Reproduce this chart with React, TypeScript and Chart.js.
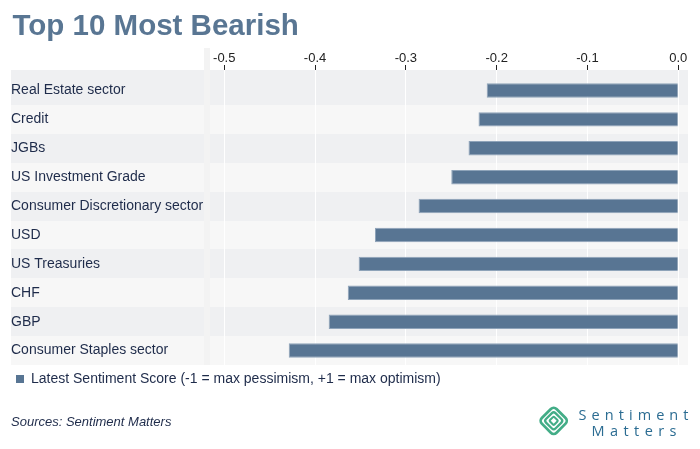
import React, { useEffect, useRef } from 'react';
import { Chart, registerables } from 'chart.js';

Chart.register(...registerables);

const titleText = 'Top 10 Most Bearish';
const sourceText = 'Sources: Sentiment Matters';
const seriesLabel = 'Latest Sentiment Score (-1 = max pessimism, +1 = max optimism)';
const categories = [
  'Real Estate sector',
  'Credit',
  'JGBs',
  'US Investment Grade',
  'Consumer Discretionary sector',
  'USD',
  'US Treasuries',
  'CHF',
  'GBP',
  'Consumer Staples sector',
];
const scores = [-0.211, -0.22, -0.231, -0.25, -0.286, -0.334, -0.352, -0.364, -0.385, -0.429];
const xTickValues = [-0.5, -0.4, -0.3, -0.2, -0.1, 0.0];
const logoWords = ['Sentiment', 'Matters'];

const FONT = '"Liberation Sans", Arial, Helvetica, sans-serif';
const BAR = '#587593';
const TEXT = '#1e2b4a';

const bandPlugin = {
  id: 'bands',
  afterLayout(chart: any) {
    chart.scales.y.left = 11;
    if (chart.legend) chart.legend.left = 9;
  },
  beforeDraw(chart: any) {
    const { ctx, chartArea } = chart;
    const y = chart.scales.y;
    const n = categories.length;
    const step = (chartArea.bottom - chartArea.top) / n;
    ctx.save();
    categories.forEach((_, i) => {
      const c = y.getPixelForValue(i);
      const top = Math.round(i === 0 ? chartArea.top - 6 : c - step / 2);
      const bottom = Math.round(c + step / 2);
      ctx.fillStyle = i % 2 === 0 ? '#eff0f2' : '#f7f7f7';
      ctx.fillRect(11, top, 193, bottom - top);
      ctx.fillRect(chartArea.left, top, chartArea.right - chartArea.left, bottom - top);
    });
    ctx.fillStyle = '#f3f3f3';
    ctx.fillRect(204, 48, chartArea.left - 204, Math.round(chartArea.bottom) - 48);
    ctx.restore();
  },
  afterDraw(chart: any) {
    const { ctx, chartArea } = chart;
    const x = chart.scales.x;
    ctx.save();
    ctx.strokeStyle = '#222222';
    ctx.lineWidth = 1;
    xTickValues.forEach((v) => {
      const px = Math.round(x.getPixelForValue(v) - 0.5) + 0.5;
      ctx.beginPath();
      ctx.moveTo(px, chartArea.top - 11);
      ctx.lineTo(px, chartArea.top - 6);
      ctx.stroke();
    });
    ctx.restore();
  },
};

export default function App() {
  const canvasRef = useRef<HTMLCanvasElement | null>(null);

  useEffect(() => {
    if (!canvasRef.current) return;
    Chart.defaults.font.family = FONT;
    const chart = new Chart(canvasRef.current, {
      type: 'bar',
      data: {
        labels: categories,
        datasets: [
          {
            label: seriesLabel,
            data: scores,
            backgroundColor: BAR,
            borderColor: '#8ea3b9',
            borderWidth: 1,
            categoryPercentage: 1,
            barPercentage: 0.5,
          },
        ],
      },
      options: {
        indexAxis: 'y',
        animation: false,
        responsive: true,
        maintainAspectRatio: false,
        layout: { padding: { left: 12.5, right: 12, top: 0, bottom: 53 } },
        plugins: {
          title: {
            display: true,
            text: titleText,
            align: 'start',
            color: '#597693',
            font: { size: 29.5, weight: 'bold', family: FONT },
            padding: { top: 9, bottom: 0 },
          },
          legend: {
            display: true,
            position: 'bottom',
            align: 'start',
            labels: {
              boxWidth: 8,
              boxHeight: 8,
              padding: 7,
              color: TEXT,
              font: { size: 14, family: FONT },
              generateLabels: (c: any) =>
                (Chart.defaults.plugins.legend.labels as any)
                  .generateLabels(c)
                  .map((l: any) => ({ ...l, lineWidth: 0, strokeStyle: BAR })),
            },
          },
          tooltip: { enabled: false },
        },
        scales: {
          x: {
            type: 'linear',
            position: 'top',
            min: -0.5157,
            max: 0.0107,
            afterBuildTicks: (s: any) => {
              s.ticks = xTickValues.map((v) => ({ value: v }));
            },
            afterFit: (s: any) => {
              s.height = 31.6;
            },
            grid: {
              color: '#ffffff',
              lineWidth: 1,
              drawTicks: true,
              tickLength: 6,
              tickColor: '#ffffff',
            },
            border: { display: false },
            ticks: {
              padding: 4,
              color: '#222222',
              font: { size: 13, family: FONT },
              callback: (v: any) => Number(v).toFixed(1),
            },
          },
          y: {
            type: 'category',
            grid: { display: false },
            border: { display: false },
            afterFit: (s: any) => {
              s.width = 197.5;
            },
            ticks: {
              crossAlign: 'far',
              autoSkip: false,
              color: TEXT,
              font: { size: 14, family: FONT },
            },
          },
        },
      },
      plugins: [bandPlugin],
    } as any);
    return () => chart.destroy();
  }, []);

  return (
    <div style={{ position: 'fixed', left: 0, top: 0, width: 700, height: 449, background: '#ffffff' }}>
      <canvas ref={canvasRef} style={{ display: 'block' }} />
      <div
        style={{
          position: 'absolute',
          left: 11,
          top: 413,
          font: `italic 13px ${FONT}`,
          lineHeight: '18px',
          color: TEXT,
          whiteSpace: 'nowrap',
        }}
      >
        {sourceText}
      </div>
      <svg
        width={700}
        height={449}
        style={{ position: 'absolute', left: 0, top: 0, pointerEvents: 'none' }}
      >
        <g transform="translate(553.7 420.8) rotate(45)" fill="none" stroke="#43ad87">
          <rect x={-10.4} y={-10.4} width={20.8} height={20.8} rx={4} strokeWidth={2.7} />
          <rect x={-6.7} y={-6.7} width={13.4} height={13.4} rx={2.5} strokeWidth={2.3} />
          <rect x={-3.1} y={-3.1} width={6.2} height={6.2} rx={1} strokeWidth={2.1} />
        </g>
        <text x={578.5} y={419.5} textLength={110} lengthAdjust="spacing" fontFamily="'Open Sans', Lato, sans-serif" fontSize={14.5} fill="#2b6c92">
          {logoWords[0]}
        </text>
        <text x={591.5} y={436} textLength={85} lengthAdjust="spacing" fontFamily="'Open Sans', Lato, sans-serif" fontSize={14.5} fill="#2b6c92">
          {logoWords[1]}
        </text>
      </svg>
    </div>
  );
}
